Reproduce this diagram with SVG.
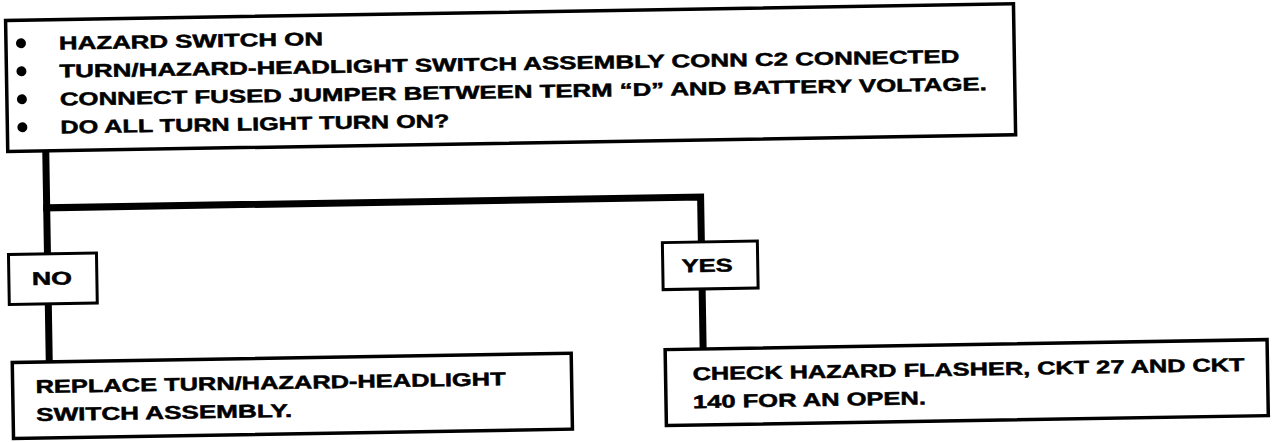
<svg xmlns="http://www.w3.org/2000/svg" width="1280" height="442" viewBox="0 0 1280 442">
<style>
.box{fill:#fff;stroke:#000;stroke-width:3.5}
.lbl{fill:#fff;stroke:#000;stroke-width:3}
.t{font-family:"Liberation Sans",Arial,Helvetica,sans-serif;font-weight:bold;font-size:18.5px;fill:#000;stroke:#000;stroke-width:0.5}
.conn{fill:none;stroke:#000;stroke-width:7;stroke-linecap:square;stroke-linejoin:miter}
</style>
<rect width="1280" height="442" fill="#fff"/>
<g transform="rotate(-0.95 640 221)">
<g id="connectors">
<path class="conn" d="M47,143 V244"/>
<path class="conn" d="M47,198 H701 V243"/>
<path class="conn" d="M47,294 V352"/>
<path class="conn" d="M701,290 V350"/>
</g>
<g id="question">
<rect class="box" x="9" y="10" width="1008" height="131"/>
<circle cx="24" cy="33" r="5"/>
<circle cx="24" cy="61" r="5"/>
<circle cx="24" cy="89" r="5"/>
<circle cx="24" cy="117" r="5"/>
<text class="t" x="62" y="40" textLength="264" lengthAdjust="spacingAndGlyphs">HAZARD SWITCH ON</text>
<text class="t" x="62" y="68" textLength="900" lengthAdjust="spacingAndGlyphs">TURN/HAZARD-HEADLIGHT SWITCH ASSEMBLY CONN C2 CONNECTED</text>
<text class="t" x="62" y="96" textLength="927" lengthAdjust="spacingAndGlyphs">CONNECT FUSED JUMPER BETWEEN TERM “D” AND BATTERY VOLTAGE.</text>
<text class="t" x="62" y="124" textLength="389" lengthAdjust="spacingAndGlyphs">DO ALL TURN LIGHT TURN ON?</text>
</g>
<g id="no">
<rect class="lbl" x="8" y="244" width="88" height="50"/>
<text class="t" x="31" y="275" textLength="40" lengthAdjust="spacingAndGlyphs">NO</text>
</g>
<g id="yes">
<rect class="lbl" x="662" y="243" width="95" height="47"/>
<text class="t" x="681" y="273" textLength="51" lengthAdjust="spacingAndGlyphs">YES</text>
</g>
<g id="replace">
<rect class="box" x="10" y="352" width="559" height="76"/>
<text class="t" x="33" y="383" textLength="470" lengthAdjust="spacingAndGlyphs">REPLACE TURN/HAZARD-HEADLIGHT</text>
<text class="t" x="33" y="411" textLength="256" lengthAdjust="spacingAndGlyphs">SWITCH ASSEMBLY.</text>
</g>
<g id="check">
<rect class="box" x="663" y="350" width="602" height="76"/>
<text class="t" x="690" y="381" textLength="552" lengthAdjust="spacingAndGlyphs">CHECK HAZARD FLASHER, CKT 27 AND CKT</text>
<text class="t" x="690" y="409" textLength="233" lengthAdjust="spacingAndGlyphs">140 FOR AN OPEN.</text>
</g>
</g>
</svg>
